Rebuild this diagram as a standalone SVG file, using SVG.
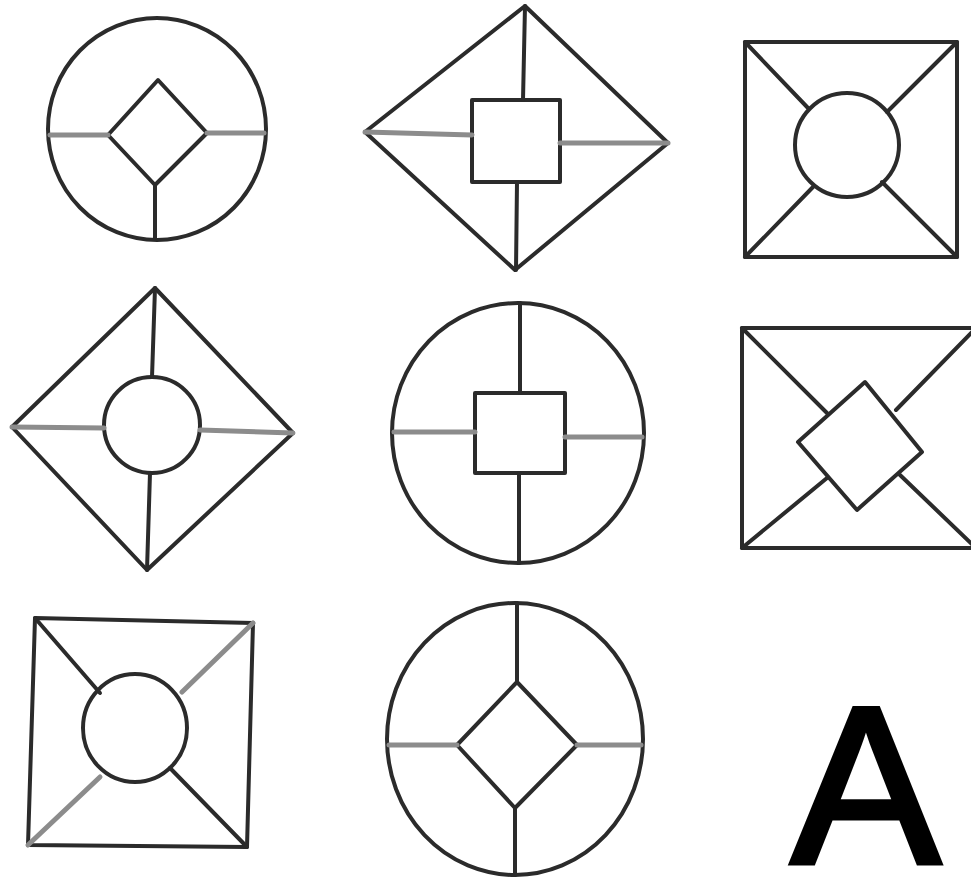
<svg xmlns="http://www.w3.org/2000/svg" width="971" height="883" viewBox="0 0 971 883">
<style>
.s{fill:none;stroke:#2b2b2b;stroke-width:4;stroke-linejoin:round;stroke-linecap:round}
.g{fill:none;stroke:#8c8c8c;stroke-width:5;stroke-linecap:round}
.lbl{font-family:"Liberation Sans",Arial,sans-serif;font-size:224px;fill:#000;stroke:#000;stroke-width:5;stroke-linejoin:miter}
</style>
<rect width="971" height="883" fill="#fff"/>
<g id="fig1">
<ellipse class="s" cx="157" cy="129" rx="109" ry="111"/>
<polygon class="s" points="158,80 207,133 155,185 108,135"/>
<line class="g" x1="50" y1="135" x2="108" y2="135"/>
<line class="g" x1="207" y1="133" x2="264" y2="133"/>
<line class="s" x1="155" y1="185" x2="155" y2="238"/>
</g>
<g id="fig2">
<polygon class="s" points="525,6 668,143 515,270 365,132"/>
<rect class="s" x="472" y="100" width="88" height="82"/>
<line class="s" x1="525" y1="6" x2="523" y2="100"/>
<line class="s" x1="517" y1="182" x2="516" y2="270"/>
<line class="g" x1="365" y1="132" x2="472" y2="135"/>
<line class="g" x1="560" y1="143" x2="668" y2="143"/>
</g>
<g id="fig3">
<rect class="s" x="745" y="42" width="212" height="215"/>
<circle class="s" cx="847" cy="145" r="52"/>
<line class="s" x1="745" y1="42" x2="808" y2="108"/>
<line class="s" x1="957" y1="42" x2="887" y2="112"/>
<line class="s" x1="745" y1="257" x2="813" y2="187"/>
<line class="s" x1="957" y1="257" x2="882" y2="182"/>
</g>
<g id="fig4">
<polygon class="s" points="155,288 293,433 147,570 12,427"/>
<circle class="s" cx="152" cy="425" r="48"/>
<line class="s" x1="155" y1="288" x2="152" y2="377"/>
<line class="s" x1="147" y1="570" x2="150" y2="473"/>
<line class="g" x1="12" y1="427" x2="104" y2="428"/>
<line class="g" x1="200" y1="430" x2="293" y2="433"/>
</g>
<g id="fig5">
<ellipse class="s" cx="518" cy="433" rx="126" ry="130"/>
<rect class="s" x="475" y="393" width="90" height="80"/>
<line class="s" x1="520" y1="303" x2="520" y2="393"/>
<line class="s" x1="519" y1="473" x2="519" y2="563"/>
<line class="g" x1="394" y1="432" x2="475" y2="432"/>
<line class="g" x1="565" y1="437" x2="642" y2="437"/>
</g>
<g id="fig6">
<rect class="s" x="742" y="328" width="236" height="220"/>
<polygon class="s" points="865,382 922,452 857,510 798,442"/>
<line class="s" x1="742" y1="328" x2="827" y2="413"/>
<line class="s" x1="976" y1="328" x2="896" y2="410"/>
<line class="s" x1="742" y1="548" x2="827" y2="478"/>
<line class="s" x1="976" y1="548" x2="900" y2="475"/>
</g>
<g id="fig7">
<polygon class="s" points="35,618 253,623 247,847 28,845"/>
<ellipse class="s" cx="135" cy="728" rx="52" ry="54"/>
<line class="s" x1="35" y1="618" x2="100" y2="693"/>
<line class="g" x1="253" y1="623" x2="182" y2="692"/>
<line class="g" x1="28" y1="845" x2="100" y2="777"/>
<line class="s" x1="247" y1="847" x2="170" y2="768"/>
</g>
<g id="fig8">
<ellipse class="s" cx="515" cy="739" rx="128" ry="136"/>
<polygon class="s" points="517,682 577,745 515,808 457,745"/>
<line class="s" x1="517" y1="603" x2="517" y2="682"/>
<line class="s" x1="515" y1="808" x2="515" y2="875"/>
<line class="g" x1="389" y1="745" x2="457" y2="745"/>
<line class="g" x1="577" y1="745" x2="641" y2="745"/>
</g>
<text class="lbl" x="791" y="863">A</text>
</svg>
